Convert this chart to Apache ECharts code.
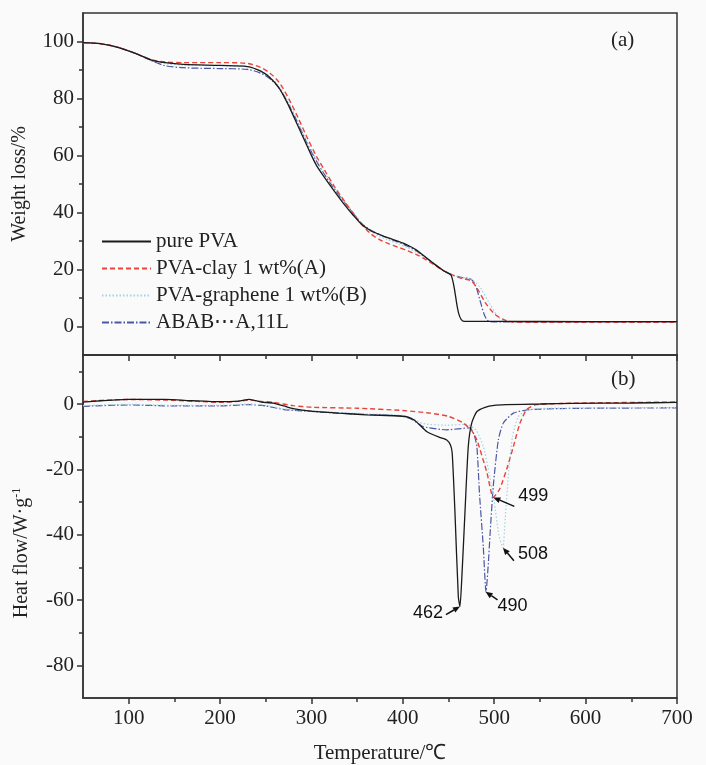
<!DOCTYPE html>
<html>
<head>
<meta charset="utf-8">
<script src="https://cdn.jsdelivr.net/npm/echarts@6/dist/echarts.min.js"></script>
<style>
html,body{margin:0;padding:0;background:#fafafa;}
#c{width:706px;height:765px;}
</style>
</head>
<body>
<div id="c"></div>
<script>
// ---------- DATA ----------
const seriesNames = ['pure PVA', 'PVA-clay 1 wt%(A)', 'PVA-graphene 1 wt%(B)', 'ABAB\u22efA,11L'];

// (a) TGA — weight loss (%)
const tgaPureT = [50,70,90,110,125,140,160,200,230,245,255,265,275,285,295,305,315,325,335,345,355,365,375,385,395,405,415,425,435,445,453,467,500,600,700];
const tgaPureV = [99.6,99.2,97.8,95.5,93.5,92.6,92.0,91.6,91.2,89.5,87.2,83.5,77.5,70.5,63.5,56.8,52.0,47.5,43.2,39.3,35.8,33.6,32.2,31.0,29.9,28.6,26.8,24.3,21.8,19.5,17.9,1.8,1.8,1.7,1.7];

const tgaClayT = [50,70,90,110,125,140,160,200,230,245,255,265,275,285,295,305,315,325,335,345,355,365,375,385,395,405,415,425,435,445,455,465,475,482,490,500,510,520,540,600,700];
const tgaClayV = [99.6,99.2,97.8,95.5,93.6,92.8,92.6,92.6,92.3,90.8,88.8,85.5,80.0,73.5,66.5,60.0,54.5,49.2,44.5,40.0,35.8,32.5,30.4,29.0,27.8,26.6,25.2,23.5,21.5,19.5,18.0,16.8,16.0,13.0,8.5,4.5,2.5,1.6,1.5,1.5,1.5];

const tgaGrapT = [50,70,90,110,125,140,160,200,230,245,255,265,275,285,295,305,315,325,335,345,355,365,375,385,395,405,415,425,435,445,455,465,475,485,495,505,515,600,700];
const tgaGrapV = [99.6,99.2,97.8,95.5,93.4,92.2,91.7,91.5,91.2,89.6,87.5,84.0,78.5,72.0,65.0,59.0,53.7,48.8,44.3,40.2,36.2,33.4,31.5,30.2,29.0,27.7,26.0,24.0,21.8,19.5,18.0,17.2,16.6,13.5,8.0,3.2,1.6,1.6,1.6];

const tgaAbabT = [50,70,90,110,125,140,160,200,230,245,255,265,275,285,295,305,315,325,335,345,355,365,375,385,395,405,415,425,435,445,455,465,475,480,485,490,495,510,600,700];
const tgaAbabV = [99.6,99.2,97.8,95.5,93.3,91.5,90.8,90.5,90.2,88.8,86.8,83.5,78.0,71.5,64.5,58.3,53.0,48.3,44.0,40.0,36.2,33.8,32.2,30.8,29.6,28.2,26.5,24.2,21.8,19.5,18.0,17.2,16.5,14.0,8.5,3.5,1.7,1.6,1.6,1.6];

// (b) DSC — heat flow (W/g)
const dscPureT = [50,70,100,140,170,200,220,232,245,258,270,280,300,330,360,390,404,412,418,426,440,448,452,454,457,460.7,462.5,464.4,468,471.6,475.4,481,490,500,513,550,586,650,700];
const dscPureV = [0.6,1.0,1.4,1.4,1.0,0.7,0.9,1.4,0.6,0.3,-0.6,-1.4,-2.2,-2.8,-3.3,-3.6,-3.9,-4.8,-6.3,-8.4,-10.2,-11.0,-12.5,-15,-33,-59,-62,-54,-33,-13,-5.8,-2.3,-1.0,-0.4,-0.2,0.0,0.2,0.3,0.5];

const dscClayT = [50,70,100,140,170,200,220,232,245,258,280,300,350,400,430,450,466,475,481,492,499,506,513.6,521,528,535.5,546,600,700];
const dscClayV = [0.8,1.1,1.4,1.2,0.9,0.5,0.8,1.2,0.8,0.5,-0.5,-1.0,-1.3,-2.0,-2.8,-3.8,-5.8,-8.0,-11.0,-21.0,-28.6,-26.0,-20.0,-13.0,-6.0,-1.7,-0.2,0.3,0.6];

const dscGrapT = [50,100,150,200,232,250,270,300,330,360,400,411,422,448,470,480,488,495,500,505,509.5,512,516,520,526,535,560,700];
const dscGrapV = [-0.5,-0.1,-0.4,-0.4,0.0,-0.4,-1.5,-2.1,-2.6,-3.0,-3.5,-4.5,-6.0,-6.5,-6.2,-8.0,-13.0,-22.0,-30.0,-40.0,-44.0,-35.0,-20.0,-10.0,-4.0,-2.0,-1.3,-1.1];

const dscAbabT = [50,100,150,200,232,250,270,300,330,360,400,411,422,448,473.5,478,481,484,488,491,493.6,495.4,499,504.5,510,521,539,600,700];
const dscAbabV = [-0.7,-0.3,-0.6,-0.6,-0.2,-0.6,-1.7,-2.3,-2.8,-3.2,-3.7,-4.9,-6.9,-7.9,-7.3,-9.5,-13.0,-28.0,-43.6,-57.5,-48.6,-40.0,-25.0,-11.0,-5.8,-2.8,-1.7,-1.3,-1.2];

// peak annotations (b)
const peakTexts = ['462', '499', '508', '490'];
const peakTemps = [462.5, 499, 509.5, 490.5];
const peakVals  = [-62, -28.6, -44, -57.5];

// tick values
const xMajor = [100,200,300,400,500,600,700];
const xMinor = [150,250,350,450,550,650];
const yTopMajor = [0,20,40,60,80,100];
const yTopMinor = [10,30,50,70,90];
const yBotMajor = [-80,-60,-40,-20,0];
const yBotMinor = [-70,-50,-30,-10,10];

// ---------- LAYOUT / STYLE ----------
const serif = "'Liberation Serif','Times New Roman',serif";
const sans = "'Liberation Sans',Arial,sans-serif";
const axisColor = '#333';
const tickFont = 21;
const styles = [
  {color:'#1a1a1a', width:1.3, type:'solid'},
  {color:'#e8443c', width:1.4, type:[5,3]},
  {color:'#9fd3df', width:1.2, type:[1.5,2]},
  {color:'#4a56a6', width:1.2, type:[7,2,1.5,2]}
];
// label / arrow offsets (px) relative to each peak point
const annLayout = [
  {text:[-32, 6], tail:[-14, 8]},
  {text:[40, -1], tail:[21, 9]},
  {text:[30, 6], tail:[11, 13]},
  {text:[27, 14], tail:[12, 8]}
];

function zip(t, v){ return t.map((x,i)=>[x, v[i]]); }

function xAx(grid, vals, len, major, labels){
  return {
    type:'value', gridIndex:grid, min:50, max:700, position:'bottom',
    axisLine:{show:major, lineStyle:{color:axisColor, width:1.5}, onZero:false},
    axisTick:{show:true, inside:false, length:len, customValues:vals, lineStyle:{color:axisColor, width:1.5}},
    axisLabel:{show:labels, customValues:vals, color:'#222', fontFamily:serif, fontSize:tickFont, margin:10},
    splitLine:{show:false}
  };
}
function yAx(grid, min, max, vals, len, major, labels){
  return {
    type:'value', gridIndex:grid, min:min, max:max, position:'left',
    axisLine:{show:major, lineStyle:{color:axisColor, width:1.5}, onZero:false},
    axisTick:{show:true, inside:false, length:len, customValues:vals, lineStyle:{color:axisColor, width:1.5}},
    axisLabel:{show:labels, customValues:vals, color:'#222', fontFamily:serif, fontSize:tickFont, margin:9},
    splitLine:{show:false}
  };
}

const xAxes = [
  xAx(0, xMajor, 6, true, false),
  xAx(0, xMinor, 4, false, false),
  xAx(1, xMajor, 6, true, true),
  xAx(1, xMinor, 4, false, false)
];
xAxes[2].name = 'Temperature/\u2103';
xAxes[2].nameLocation = 'middle';
xAxes[2].nameGap = 45;
xAxes[2].nameTextStyle = {fontFamily:serif, fontSize:21, color:'#222'};

const yAxes = [
  yAx(0, -10, 110, yTopMajor, 6, true, true),
  yAx(0, -10, 110, yTopMinor, 4, false, false),
  yAx(1, -90, 15, yBotMajor, 6, true, true),
  yAx(1, -90, 15, yBotMinor, 4, false, false)
];
yAxes[0].name = 'Weight loss/%';
yAxes[0].nameLocation = 'middle';
yAxes[0].nameGap = 53;
yAxes[0].nameTextStyle = {fontFamily:serif, fontSize:20, color:'#222'};

const tgaData = [zip(tgaPureT,tgaPureV), zip(tgaClayT,tgaClayV), zip(tgaGrapT,tgaGrapV), zip(tgaAbabT,tgaAbabV)];
const dscData = [zip(dscPureT,dscPureV), zip(dscClayT,dscClayV), zip(dscGrapT,dscGrapV), zip(dscAbabT,dscAbabV)];

const series = [];
for (let i=0;i<4;i++){
  series.push({name:seriesNames[i], type:'line', xAxisIndex:0, yAxisIndex:0, data:tgaData[i],
    showSymbol:false, symbol:'none', smooth:0.3, lineStyle:styles[i], itemStyle:{color:styles[i].color}, z:10-i});
}
for (let i=0;i<4;i++){
  series.push({name:seriesNames[i], type:'line', xAxisIndex:2, yAxisIndex:2, data:dscData[i],
    showSymbol:false, symbol:'none', smooth:0.2, lineStyle:styles[i], itemStyle:{color:styles[i].color}, z:10-i});
}

const chart = echarts.init(document.getElementById('c'), null, {renderer:'canvas'});
chart.setOption({
  backgroundColor:'#fafafa',
  animation:false,
  grid:[
    {left:83, right:29, top:13, height:342, show:true, borderColor:axisColor, borderWidth:1.5, backgroundColor:'transparent'},
    {left:83, right:29, top:355, height:343, show:true, borderColor:axisColor, borderWidth:1.5, backgroundColor:'transparent'}
  ],
  legend:{
    data:seriesNames, orient:'vertical', left:96, top:226, itemWidth:49, itemHeight:14, itemGap:6,
    itemStyle:{opacity:0},
    textStyle:{fontFamily:serif, fontSize:21, color:'#222'}, selectedMode:false
  },
  xAxis:xAxes,
  yAxis:yAxes,
  series:series
});

// annotations placed through the chart's own coordinate conversion
const g = [
  {type:'text', left:611, top:30, style:{text:'(a)', font:'21px '+serif, fill:'#222'}},
  {type:'text', left:611, top:369, style:{text:'(b)', font:'21px '+serif, fill:'#222'}},
  {type:'text', x:22, y:553, rotation:Math.PI/2,
    style:{text:'{a|Heat flow/W\u00b7g}{s|-1}', align:'center', verticalAlign:'middle', fill:'#222',
      rich:{a:{fontFamily:serif, fontSize:20, lineHeight:22, fill:'#222'},
            s:{fontFamily:serif, fontSize:12, lineHeight:22, verticalAlign:'top', fill:'#222'}}}}
];
for (let i=0;i<peakTexts.length;i++){
  const p = chart.convertToPixel({xAxisIndex:2, yAxisIndex:2}, [peakTemps[i], peakVals[i]]);
  const L = annLayout[i];
  const tail = [p[0]+L.tail[0], p[1]+L.tail[1]];
  const dx = p[0]-tail[0], dy = p[1]-tail[1];
  const len = Math.sqrt(dx*dx+dy*dy);
  const ux = dx/len, uy = dy/len, nx = -uy, ny = ux;
  const hl = 7, hw = 3;
  const base = [p[0]-ux*hl, p[1]-uy*hl];
  g.push({type:'line', shape:{x1:tail[0], y1:tail[1], x2:base[0], y2:base[1]}, style:{stroke:'#111', lineWidth:1.5}, z:100});
  g.push({type:'polygon', shape:{points:[[p[0],p[1]],[base[0]+nx*hw, base[1]+ny*hw],[base[0]-nx*hw, base[1]-ny*hw]]}, style:{fill:'#111'}, z:100});
  g.push({type:'text', x:p[0]+L.text[0], y:p[1]+L.text[1], style:{text:peakTexts[i], font:'18px '+sans, fill:'#111', align:'center', verticalAlign:'middle'}, z:100});
}
chart.setOption({graphic:g});
</script>
</body>
</html>
